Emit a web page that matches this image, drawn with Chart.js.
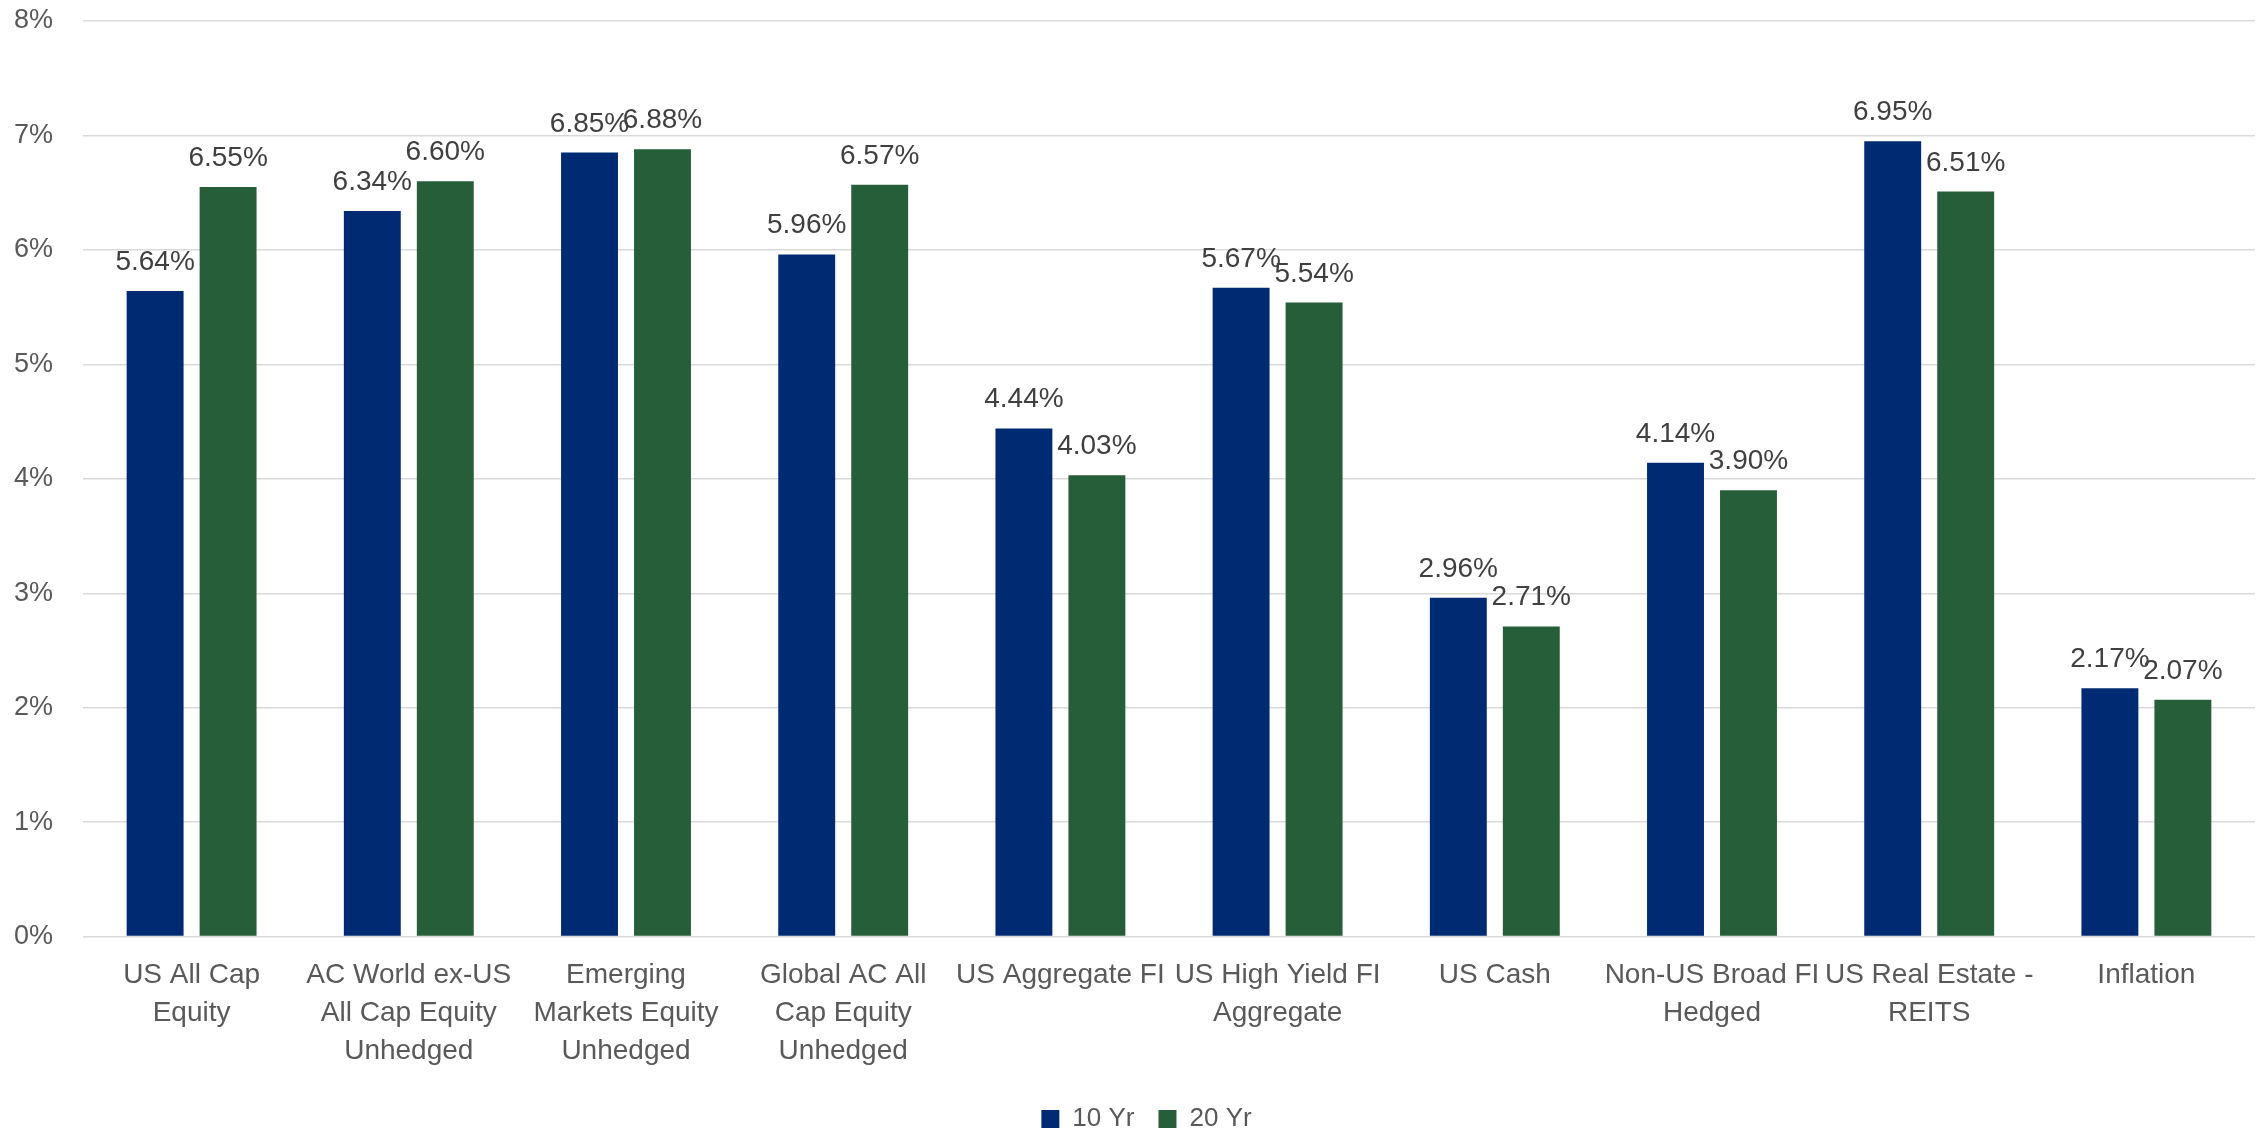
<!DOCTYPE html>
<html>
<head>
<meta charset="utf-8">
<script src="https://cdn.jsdelivr.net/npm/chart.js@4.4.1/dist/chart.umd.min.js"></script>
<style>
  html, body { margin: 0; padding: 0; background: #fff; }
  #wrap { width: 2267px; height: 1132px; position: relative; }
</style>
</head>
<body>
<div id="wrap"><canvas id="returns"></canvas></div>
<script>
// asset classes and annualised returns (%)
const categories = [
  ['US All Cap', 'Equity'],
  ['AC World ex-US', 'All Cap Equity', 'Unhedged'],
  ['Emerging', 'Markets Equity', 'Unhedged'],
  ['Global AC All', 'Cap Equity', 'Unhedged'],
  'US Aggregate FI',
  ['US High Yield FI', 'Aggregate'],
  'US Cash',
  ['Non-US Broad FI', 'Hedged'],
  ['US Real Estate -', 'REITS'],
  'Inflation'
];
const tenYear = [5.64, 6.34, 6.85, 5.96, 4.44, 5.67, 2.96, 4.14, 6.95, 2.17];
const twentyYear = [6.55, 6.60, 6.88, 6.57, 4.03, 5.54, 2.71, 3.90, 6.51, 2.07];
const yTicks = [0, 1, 2, 3, 4, 5, 6, 7, 8];

const grey = '#595959';

/**
 * barLabels: schreibt den Wert über jeden Balken
 */
const barLabels = {
  id: 'barLabels',
  afterDatasetsDraw(chart) {
    const ctx = chart.ctx;
    ctx.save();
    ctx.font = '28px "Liberation Sans", Arial, sans-serif';
    ctx.fillStyle = '#404040';
    ctx.textAlign = 'center';
    ctx.textBaseline = 'alphabetic';
    chart.data.datasets.forEach((ds, i) => {
      chart.getDatasetMeta(i).data.forEach((bar, j) => {
        ctx.fillText(ds.data[j].toFixed(2) + '%', bar.x, bar.y - 21);
      });
    });
    ctx.restore();
  }
};

/**
 * legendShift: schiebt die Legende etwas nach rechts
 */
const legendShift = {
  id: 'legendShift',
  afterLayout(chart) {
    chart.legend.left += 19;
    chart.legend.right += 19;
  }
};

function initChart() {
  const ctx = document.getElementById('returns').getContext('2d');
  return new Chart(ctx, {
    type: 'bar',
    data: {
      labels: categories,
      datasets: [
        { label: '10 Yr', data: tenYear, backgroundColor: '#002B73' },
        { label: '20 Yr', data: twentyYear, backgroundColor: '#275E3A' }
      ]
    },
    options: {
      responsive: true,
      maintainAspectRatio: false,
      animation: false,
      devicePixelRatio: 1,
      categoryPercentage: 0.672,
      barPercentage: 0.78,
      layout: { padding: { top: 0, right: 12, left: 0, bottom: -10 } },
      plugins: {
        legend: {
          position: 'bottom',
          labels: {
            boxWidth: 18,
            boxHeight: 18,
            padding: 24,
            color: grey,
            font: { family: '"Liberation Sans", Arial, sans-serif', size: 26 }
          }
        },
        tooltip: { enabled: false }
      },
      scales: {
        x: {
          grid: { display: false },
          border: { display: false },
          ticks: {
            autoSkip: false,
            maxRotation: 0,
            padding: 12,
            color: grey,
            font: { family: '"Liberation Sans", Arial, sans-serif', size: 28, lineHeight: 1.35 }
          }
        },
        y: {
          min: 0,
          max: 8,
          afterBuildTicks: (axis) => { axis.ticks = yTicks.map(v => ({ value: v })); },
          afterFit: (axis) => {
            axis.width = 83;
            axis.paddingTop = 21;
            axis.paddingBottom = 0;
          },
          grid: { color: '#D9D9D9', lineWidth: 1.5, drawTicks: false },
          border: { display: false },
          ticks: {
            padding: 30,
            color: grey,
            font: { family: '"Liberation Sans", Arial, sans-serif', size: 27 },
            callback: (v) => v + '%'
          }
        }
      }
    },
    plugins: [barLabels, legendShift]
  });
}

initChart();
</script>
</body>
</html>
